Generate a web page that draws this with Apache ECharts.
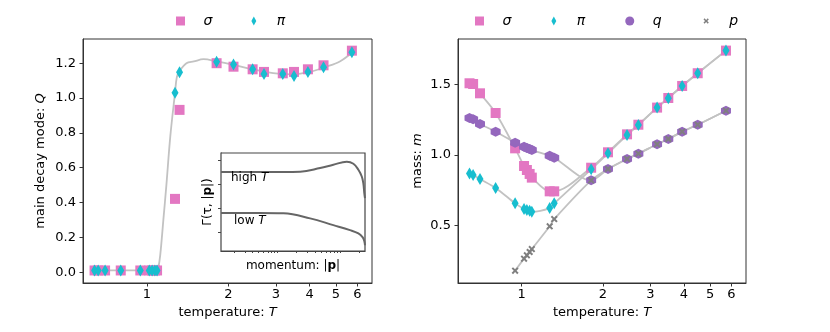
<!DOCTYPE html>
<html>
<head>
<meta charset="utf-8">
<script src="https://cdn.jsdelivr.net/npm/echarts@6/dist/echarts.min.js"></script>
<style>
html,body{margin:0;padding:0;background:#fff;}
#chart{width:830px;height:332px;}
</style>
</head>
<body>
<div id="chart"></div>
<script>
// ---------- data ----------
const temps = [0.64, 0.66, 0.70, 0.80, 0.945, 1.02, 1.045, 1.07, 1.09, 1.27, 1.32, 1.81, 2.09, 2.46, 2.71, 3.18, 3.50, 3.94, 4.50, 5.73];

// left panel: main decay mode Q
const sigmaQ = [0.01, 0.01, 0.01, 0.01, 0.01, 0.01, 0.01, 0.01, 0.01, 0.421, 0.932, 1.200, 1.180, 1.165, 1.150, 1.142, 1.150, 1.165, 1.188, 1.272];
const piQ    = [0.01, 0.01, 0.01, 0.01, 0.01, 0.01, 0.01, 0.01, 0.01, 1.031, 1.148, 1.209, 1.192, 1.165, 1.138, 1.138, 1.127, 1.150, 1.177, 1.263];
const fitT = [0.65, 0.80, 1.00, 1.09, 1.10, 1.12, 1.15, 1.18, 1.22, 1.27, 1.29, 1.32, 1.40, 1.49, 1.62, 1.81, 2.09, 2.46, 2.93, 3.48, 4.00, 4.61, 5.17, 5.73];
const fitQ = [0.01, 0.01, 0.01, 0.01, 0.02, 0.10, 0.30, 0.50, 0.78, 1.03, 1.12, 1.155, 1.20, 1.21, 1.223, 1.21, 1.19, 1.165, 1.143, 1.136, 1.15, 1.18, 1.21, 1.26];

// right panel: mass m
const sigmaM = [1.507, 1.502, 1.436, 1.297, 1.047, 0.922, 0.894, 0.866, 0.840, 0.743, 0.743, 0.910, 1.019, 1.146, 1.214, 1.335, 1.403, 1.488, 1.578, 1.738];
const piM    = [0.870, 0.859, 0.830, 0.767, 0.658, 0.618, 0.611, 0.606, 0.599, 0.625, 0.658, 0.899, 1.012, 1.141, 1.212, 1.335, 1.401, 1.488, 1.578, 1.738];
const qM     = [1.262, 1.252, 1.219, 1.165, 1.087, 1.059, 1.050, 1.042, 1.035, 0.995, 0.981, 0.821, 0.901, 0.972, 1.009, 1.076, 1.113, 1.165, 1.214, 1.313];
const pM     = [null, null, null, null, 0.182, 0.267, 0.291, 0.314, 0.335, 0.496, 0.547, 0.821, 0.901, 0.972, 1.009, 1.076, 1.113, 1.165, 1.214, 1.313];

// tick labels
const tTicks = [1, 2, 3, 4, 5, 6];
const qTicks = [0, 0.2, 0.4, 0.6, 0.8, 1.0, 1.2];
const mTicks = [0.5, 1.0, 1.5];

// inset: decay rate vs momentum
const highP = [0.125, 0.5, 1.24, 2.3, 4.8, 7.8, 12.8, 16.3, 19.6, 22.2, 23.5, 24.4, 25];
const highG = [0.805, 0.805, 0.805, 0.808, 0.846, 0.880, 0.911, 0.890, 0.829, 0.760, 0.692, 0.589, 0.54];
const lowP  = [0.125, 0.5, 1.24, 3.32, 7.8, 14.4, 19.6, 23.0, 24.4, 25];
const lowG  = [0.388, 0.388, 0.384, 0.333, 0.264, 0.213, 0.179, 0.138, 0.10, 0.059];
const insetYTicks = [0.19, 0.435, 0.68, 0.925];
const insetXTicks = [0.2,0.3,0.4,0.5,0.6,0.7,0.8,0.9,1,2,3,4,5,6,7,8,9,10,20];

// ---------- styles ----------
const C_SIGMA = '#e377c2', C_PI = '#17becf', C_Q = '#9467bd', C_P = '#7f7f7f';
const LINE_GRAY = '#c2c2c2';
const FONT = 'DejaVu Sans';
const SQUARE = 'path://M0,0 L10,0 L10,10 L0,10 Z';
const DIAMOND = 'path://M0,-11 L6,0 L0,11 L-6,0 Z';
const XMARK = 'path://M-10,-6 L-6,-10 L0,-4 L6,-10 L10,-6 L4,0 L10,6 L6,10 L0,4 L-6,10 L-10,6 L-4,0 Z';
const XMARK_LEG = 'path://M-17,-17 L-17,-17 M17,17 L17,17 M-10,-6 L-6,-10 L0,-4 L6,-10 L10,-6 L4,0 L10,6 L6,10 L0,4 L-6,10 L-10,6 L-4,0 Z';
const HEX = 'path://M0,-10 L8.66,-5 L8.66,5 L0,10 L-8.66,5 L-8.66,-5 Z';

const pairs = (xs, ys) => xs.map((x, i) => [x, ys[i]]).filter(d => d[1] !== null);

const gridL = {left: 83, top: 39, width: 289, height: 244, show: true, borderColor: '#333', borderWidth: 1};
const gridR = {left: 458, top: 39, width: 288, height: 244, show: true, borderColor: '#333', borderWidth: 1};
const gridI = {left: 221, top: 153, width: 144, height: 98, show: true, borderColor: '#444', borderWidth: 1.2, backgroundColor: '#fff', z: 5};

function tAxis(gi) {
  return {
    type: 'log', logBase: 10, gridIndex: gi, min: 0.58, max: 6.8,
    name: 'temperature: {i|T}', nameLocation: 'middle', nameGap: 21,
    nameTextStyle: {fontFamily: FONT, fontSize: 13, color: '#000', rich: {i: {fontStyle: 'italic', fontFamily: FONT, fontSize: 13}}},
    axisLine: {show: true, onZero: false, lineStyle: {color: '#333'}},
    axisTick: {show: true, length: 3.5, inside: false, customValues: tTicks, lineStyle: {color: '#333'}},
    axisLabel: {show: true, customValues: tTicks, margin: 5, fontFamily: FONT, fontSize: 13, color: '#000', formatter: v => String(Math.round(v))},
    splitLine: {show: false}, minorTick: {show: false}
  };
}

const legendText = {fontFamily: FONT, fontSize: 14, fontStyle: 'italic', color: '#000'};

const option = {
  animation: false,
  backgroundColor: '#fff',
  legend: [
    {
      left: 176, top: 14, padding: 0, itemWidth: 36, itemHeight: 9, itemGap: 39, symbolKeepAspect: true,
      textStyle: legendText,
      data: [{name: 'σ', icon: SQUARE}, {name: 'π', icon: DIAMOND}],
      selectedMode: false
    },
    {
      left: 475, top: 14, padding: 0, itemWidth: 36, itemHeight: 9, itemGap: 40, symbolKeepAspect: true,
      textStyle: legendText,
      data: [{name: 'σ', icon: SQUARE}, {name: 'π', icon: DIAMOND}, {name: 'q', icon: 'circle'}, {name: 'p', icon: XMARK_LEG}],
      selectedMode: false
    }
  ],
  grid: [gridL, gridR, gridI],
  xAxis: [
    tAxis(0),
    tAxis(1),
    {
      type: 'log', logBase: 10, gridIndex: 2, min: 0.125, max: 25,
      name: 'momentum: |{b|p}|', nameLocation: 'middle', nameGap: 9,
      nameTextStyle: {fontFamily: FONT, fontSize: 12, color: '#000', rich: {b: {fontWeight: 'bold', fontFamily: FONT, fontSize: 12}}},
      axisLine: {show: true, onZero: false, lineStyle: {color: '#444'}},
      axisTick: {show: true, length: 2, inside: false, customValues: insetXTicks, lineStyle: {color: '#444'}},
      axisLabel: {show: false},
      splitLine: {show: false}
    }
  ],
  yAxis: [
    {
      type: 'value', gridIndex: 0, min: -0.062, max: 1.339,
      name: 'main decay mode: {i|Q}', nameLocation: 'middle', nameGap: 36,
      nameTextStyle: {fontFamily: FONT, fontSize: 13, color: '#000', rich: {i: {fontStyle: 'italic', fontFamily: FONT, fontSize: 13}}},
      axisLine: {show: true, onZero: false, lineStyle: {color: '#333'}},
      axisTick: {show: true, length: 3.5, customValues: qTicks, lineStyle: {color: '#333'}},
      axisLabel: {customValues: qTicks, margin: 7, fontFamily: FONT, fontSize: 13, color: '#000', formatter: v => v.toFixed(1)},
      splitLine: {show: false}
    },
    {
      type: 'value', gridIndex: 1, min: 0.095, max: 1.82,
      name: 'mass: {i|m}', nameLocation: 'middle', nameGap: 34,
      nameTextStyle: {fontFamily: FONT, fontSize: 13, color: '#000', rich: {i: {fontStyle: 'italic', fontFamily: FONT, fontSize: 13}}},
      axisLine: {show: true, onZero: false, lineStyle: {color: '#333'}},
      axisTick: {show: true, length: 3.5, customValues: mTicks, lineStyle: {color: '#333'}},
      axisLabel: {customValues: mTicks, margin: 7, fontFamily: FONT, fontSize: 13, color: '#000', formatter: v => v.toFixed(1)},
      splitLine: {show: false}
    },
    {
      type: 'value', gridIndex: 2, min: 0, max: 1,
      name: 'Γ(τ, |{b|p}|)', nameLocation: 'middle', nameGap: 7,
      nameTextStyle: {fontFamily: FONT, fontSize: 12, color: '#000', rich: {b: {fontWeight: 'bold', fontFamily: FONT, fontSize: 12}}},
      axisLine: {show: true, onZero: false, lineStyle: {color: '#444'}},
      axisTick: {show: true, length: 3, customValues: insetYTicks, lineStyle: {color: '#444'}},
      axisLabel: {show: false},
      splitLine: {show: false}
    }
  ],
  graphic: [
    {type: 'text', left: 231, top: 172, z: 100, style: {text: '{n|high }{i|T}', rich: {
      n: {fontFamily: FONT, fontSize: 12, fill: '#000'}, i: {fontFamily: FONT, fontSize: 12, fontStyle: 'italic', fill: '#000'}}}},
    {type: 'text', left: 234, top: 215, z: 100, style: {text: '{n|low }{i|T}', rich: {
      n: {fontFamily: FONT, fontSize: 12, fill: '#000'}, i: {fontFamily: FONT, fontSize: 12, fontStyle: 'italic', fill: '#000'}}}}
  ],
  series: [
    // left panel
    {name: 'fitQ', type: 'line', xAxisIndex: 0, yAxisIndex: 0, data: pairs(fitT, fitQ), smooth: 0.35, symbol: 'none',
     lineStyle: {color: LINE_GRAY, width: 1.8}, z: 1},
    {name: 'σ', type: 'scatter', xAxisIndex: 0, yAxisIndex: 0, data: pairs(temps, sigmaQ), symbol: 'rect', symbolSize: 10,
     itemStyle: {color: C_SIGMA, opacity: 1}, z: 2},
    {name: 'π', type: 'scatter', xAxisIndex: 0, yAxisIndex: 0, data: pairs(temps, piQ), symbol: 'diamond', symbolSize: [7, 12],
     itemStyle: {color: C_PI, opacity: 1}, z: 3},
    // right panel lines
    {name: 'lineSigma', type: 'line', xAxisIndex: 1, yAxisIndex: 1, data: pairs(temps, sigmaM), smooth: 0.3, symbol: 'none',
     lineStyle: {color: LINE_GRAY, width: 1.8}, z: 1},
    {name: 'linePi', type: 'line', xAxisIndex: 1, yAxisIndex: 1, data: pairs(temps, piM), smooth: 0.3, symbol: 'none',
     lineStyle: {color: LINE_GRAY, width: 1.8}, z: 1},
    {name: 'lineQ', type: 'line', xAxisIndex: 1, yAxisIndex: 1, data: pairs(temps, qM), smooth: 0.3, symbol: 'none',
     lineStyle: {color: LINE_GRAY, width: 1.8}, z: 1},
    {name: 'lineP', type: 'line', xAxisIndex: 1, yAxisIndex: 1, data: pairs(temps, pM), smooth: 0.3, symbol: 'none',
     lineStyle: {color: LINE_GRAY, width: 1.8}, z: 1},
    // right panel markers
    {name: 'σ', type: 'scatter', xAxisIndex: 1, yAxisIndex: 1, data: pairs(temps, sigmaM), symbol: 'rect', symbolSize: 10,
     itemStyle: {color: C_SIGMA, opacity: 1}, z: 2},
    {name: 'π', type: 'scatter', xAxisIndex: 1, yAxisIndex: 1, data: pairs(temps, piM), symbol: 'diamond', symbolSize: [7, 12],
     itemStyle: {color: C_PI, opacity: 1}, z: 3},
    {name: 'q', type: 'scatter', xAxisIndex: 1, yAxisIndex: 1, data: pairs(temps, qM), symbol: HEX, symbolSize: 10,
     itemStyle: {color: C_Q, opacity: 1}, z: 2},
    {name: 'p', type: 'scatter', xAxisIndex: 1, yAxisIndex: 1, data: pairs(temps, pM), symbol: XMARK, symbolSize: 7,
     itemStyle: {color: C_P, opacity: 1}, z: 4},
    // inset
    {name: 'highT', type: 'line', xAxisIndex: 2, yAxisIndex: 2, data: pairs(highP, highG), smooth: 0.4, symbol: 'none',
     lineStyle: {color: '#666', width: 2}, z: 10},
    {name: 'lowT', type: 'line', xAxisIndex: 2, yAxisIndex: 2, data: pairs(lowP, lowG), smooth: 0.4, symbol: 'none',
     lineStyle: {color: '#666', width: 2}, z: 10}
  ]
};

const chart = echarts.init(document.getElementById('chart'), null, {renderer: 'canvas'});
chart.setOption(option);
</script>
</body>
</html>
